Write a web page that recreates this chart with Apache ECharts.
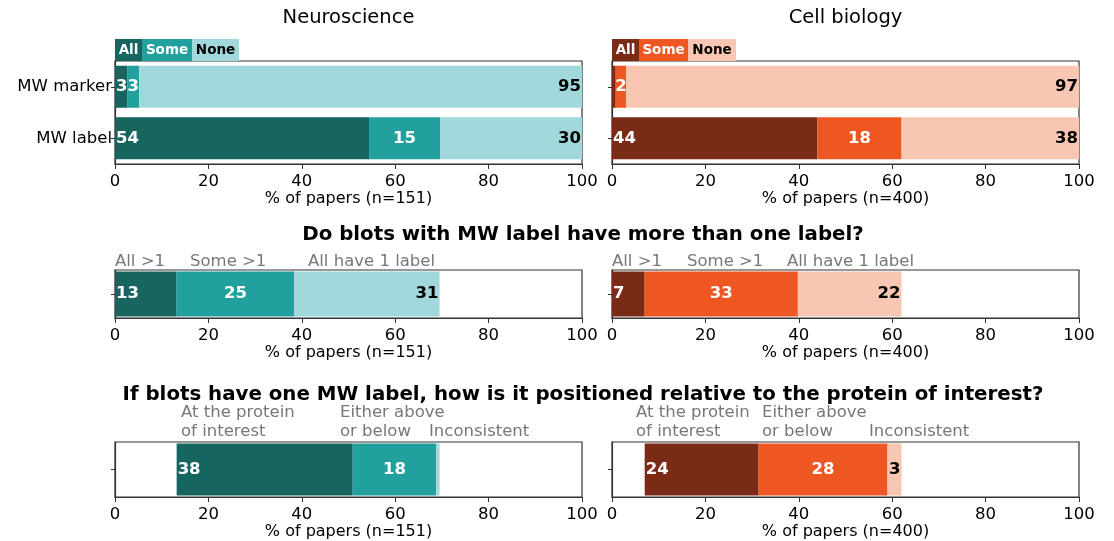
<!DOCTYPE html>
<html>
<head>
<meta charset="utf-8">
<script src="https://cdn.jsdelivr.net/npm/echarts@6/dist/echarts.min.js"></script>
<style>
  body { margin: 0; background: #fff; }
  #chart { width: 1114px; height: 541px; }
</style>
</head>
<body>
<div id="chart"></div>
<script>
// ---- data (percent of papers) ----
const markerCats = ['MW marker', 'MW label'];
const neuroAll = [2.6, 54.4];
const neuroSome = [2.6, 15.2];
const neuroNone = [94.8, 30.4];
const cellAll = [0.8, 44.0];
const cellSome = [2.2, 18.0];
const cellNone = [97.0, 38.0];

const multiNames = ['All >1', 'Some >1', 'All have 1 label'];
const neuroMulti = [13.2, 25.2, 31.1];
const cellMulti = [7.0, 32.8, 22.2];

const posNames = ['At the protein\nof interest', 'Either above\nor below', 'Inconsistent'];
const neuroPosStart = 13.2;
const neuroPos = [37.7, 17.9, 0.7];
const cellPosStart = 7.0;
const cellPos = [24.4, 27.6, 3.0];

const xTicks = [0, 20, 40, 60, 80, 100];

// ---- style ----
const teal = ['#17655f', '#22a09e', '#a1d8dc'];
const rust = ['#7a2b16', '#ef5722', '#f8c6b2'];
const txtCol = ['#fff', '#fff', '#000'];
const labelPos = ['insideLeft', 'inside', 'insideRight'];
const font = 'DejaVu Sans';

const L = 115, R = 612, W = 467;
const rows = [
  {top: 61, height: 103, bar: 42},
  {top: 270, height: 48, bar: 45},
  {top: 442, height: 57, bar: 52}
];

let grids = [], xAxes = [], yAxes = [], series = [];

function addPanel(row, col, cats, stacks, colors, nLabel, start, showY) {
  const g = grids.length;
  const r = rows[row];
  grids.push({left: col ? R : L, width: W, top: r.top, height: r.height,
    show: true, borderColor: '#333', borderWidth: 1.2, backgroundColor: '#fff'});
  xAxes.push({gridIndex: g, type: 'value', min: 0, max: 100, interval: 20,
    name: '% of papers (n=' + nLabel + ')', nameLocation: 'middle', nameGap: 27,
    nameTextStyle: {fontFamily: font, fontSize: 16, color: '#000'},
    axisLine: {show: true, lineStyle: {color: '#333', width: 1.2}},
    axisTick: {show: true, length: 5, lineStyle: {color: '#333'}},
    axisLabel: {fontFamily: font, fontSize: 16.5, color: '#000', margin: 9,
      formatter: v => xTicks.includes(v) ? String(v) : ''},
    splitLine: {show: false}});
  yAxes.push({gridIndex: g, type: 'category', data: cats, inverse: true,
    axisLine: {show: true, lineStyle: {color: '#333', width: 1.2}},
    axisTick: {show: true, length: 4, alignWithLabel: true, lineStyle: {color: '#333'}},
    axisLabel: {show: showY, fontFamily: font, fontSize: 16.5, color: '#000', margin: 3}});
  const stackId = 's' + g;
  if (start !== null) {
    series.push({type: 'bar', xAxisIndex: g, yAxisIndex: g, stack: stackId,
      barWidth: r.bar, data: cats.map(() => start), itemStyle: {color: 'transparent'},
      silent: true, label: {show: false}});
  }
  stacks.forEach((vals, i) => {
    series.push({type: 'bar', xAxisIndex: g, yAxisIndex: g, stack: stackId,
      barWidth: r.bar, data: vals, itemStyle: {color: colors[i]},
      label: {show: true, position: labelPos[i], distance: 1,
        fontFamily: font, fontWeight: 'bold', fontSize: 16.5, color: txtCol[i],
        formatter: p => p.value < 1 ? '' : String(Math.round(p.value))}});
  });
}

addPanel(0, 0, markerCats, [neuroAll, neuroSome, neuroNone], teal, 151, null, true);
addPanel(0, 1, markerCats, [cellAll, cellSome, cellNone], rust, 400, null, false);
addPanel(1, 0, [''], [[neuroMulti[0]], [neuroMulti[1]], [neuroMulti[2]]], teal, 151, null, false);
addPanel(1, 1, [''], [[cellMulti[0]], [cellMulti[1]], [cellMulti[2]]], rust, 400, null, false);
addPanel(2, 0, [''], [[neuroPos[0]], [neuroPos[1]], [neuroPos[2]]], teal, 151, neuroPosStart, false);
addPanel(2, 1, [''], [[cellPos[0]], [cellPos[1]], [cellPos[2]]], rust, 400, cellPosStart, false);

// ---- annotations ----
const graphic = [];
function txt(x, y, s, opt) {
  graphic.push({type: 'text', x: x, y: y, style: Object.assign({text: s, fontFamily: font,
    fontSize: 16, fill: '#000', textAlign: 'left', textVerticalAlign: 'middle'}, opt || {})});
}
txt(L + W / 2, 18, 'Neuroscience', {fontSize: 19.5, textAlign: 'center'});
txt(R + W / 2, 18, 'Cell biology', {fontSize: 19.5, textAlign: 'center'});
txt(583, 235, 'Do blots with MW label have more than one label?', {fontSize: 19.8, fontWeight: 'bold', textAlign: 'center'});
txt(583, 395, 'If blots have one MW label, how is it positioned relative to the protein of interest?', {fontSize: 19.8, fontWeight: 'bold', textAlign: 'center'});

// legend boxes for first row
const legNames = ['All', 'Some', 'None'];
const legEdges = [[115, 142, 192, 239], [612, 639, 688, 736]];
[teal, rust].forEach((cols, c) => {
  legNames.forEach((n, i) => {
    const e = legEdges[c];
    graphic.push({type: 'rect', shape: {x: e[i], y: 39, width: e[i + 1] - e[i], height: 22},
      style: {fill: cols[i]}});
    txt((e[i] + e[i + 1]) / 2, 50, n, {fontSize: 13.5, fontWeight: 'bold', textAlign: 'center', fill: txtCol[i]});
  });
});

// gray category labels, rows 2 and 3
const gray = {fill: '#777', fontSize: 16.5};
const multiX = [[115, 190, 308], [612, 687, 787]];
multiX.forEach(xs => multiNames.forEach((n, i) => txt(xs[i], 262, n, gray)));
const posX = [[181, 340, 429], [636, 762, 869]];
posX.forEach(xs => posNames.forEach((n, i) => {
  const lines = n.split('\n');
  if (lines.length === 2) {
    txt(xs[i], 413, lines[0], gray);
    txt(xs[i], 432, lines[1], gray);
  } else {
    txt(xs[i], 432, lines[0], gray);
  }
}));

const chart = echarts.init(document.getElementById('chart'));
chart.setOption({
  animation: false,
  backgroundColor: '#fff',
  grid: grids, xAxis: xAxes, yAxis: yAxes, series: series,
  graphic: graphic
});
</script>
</body>
</html>
